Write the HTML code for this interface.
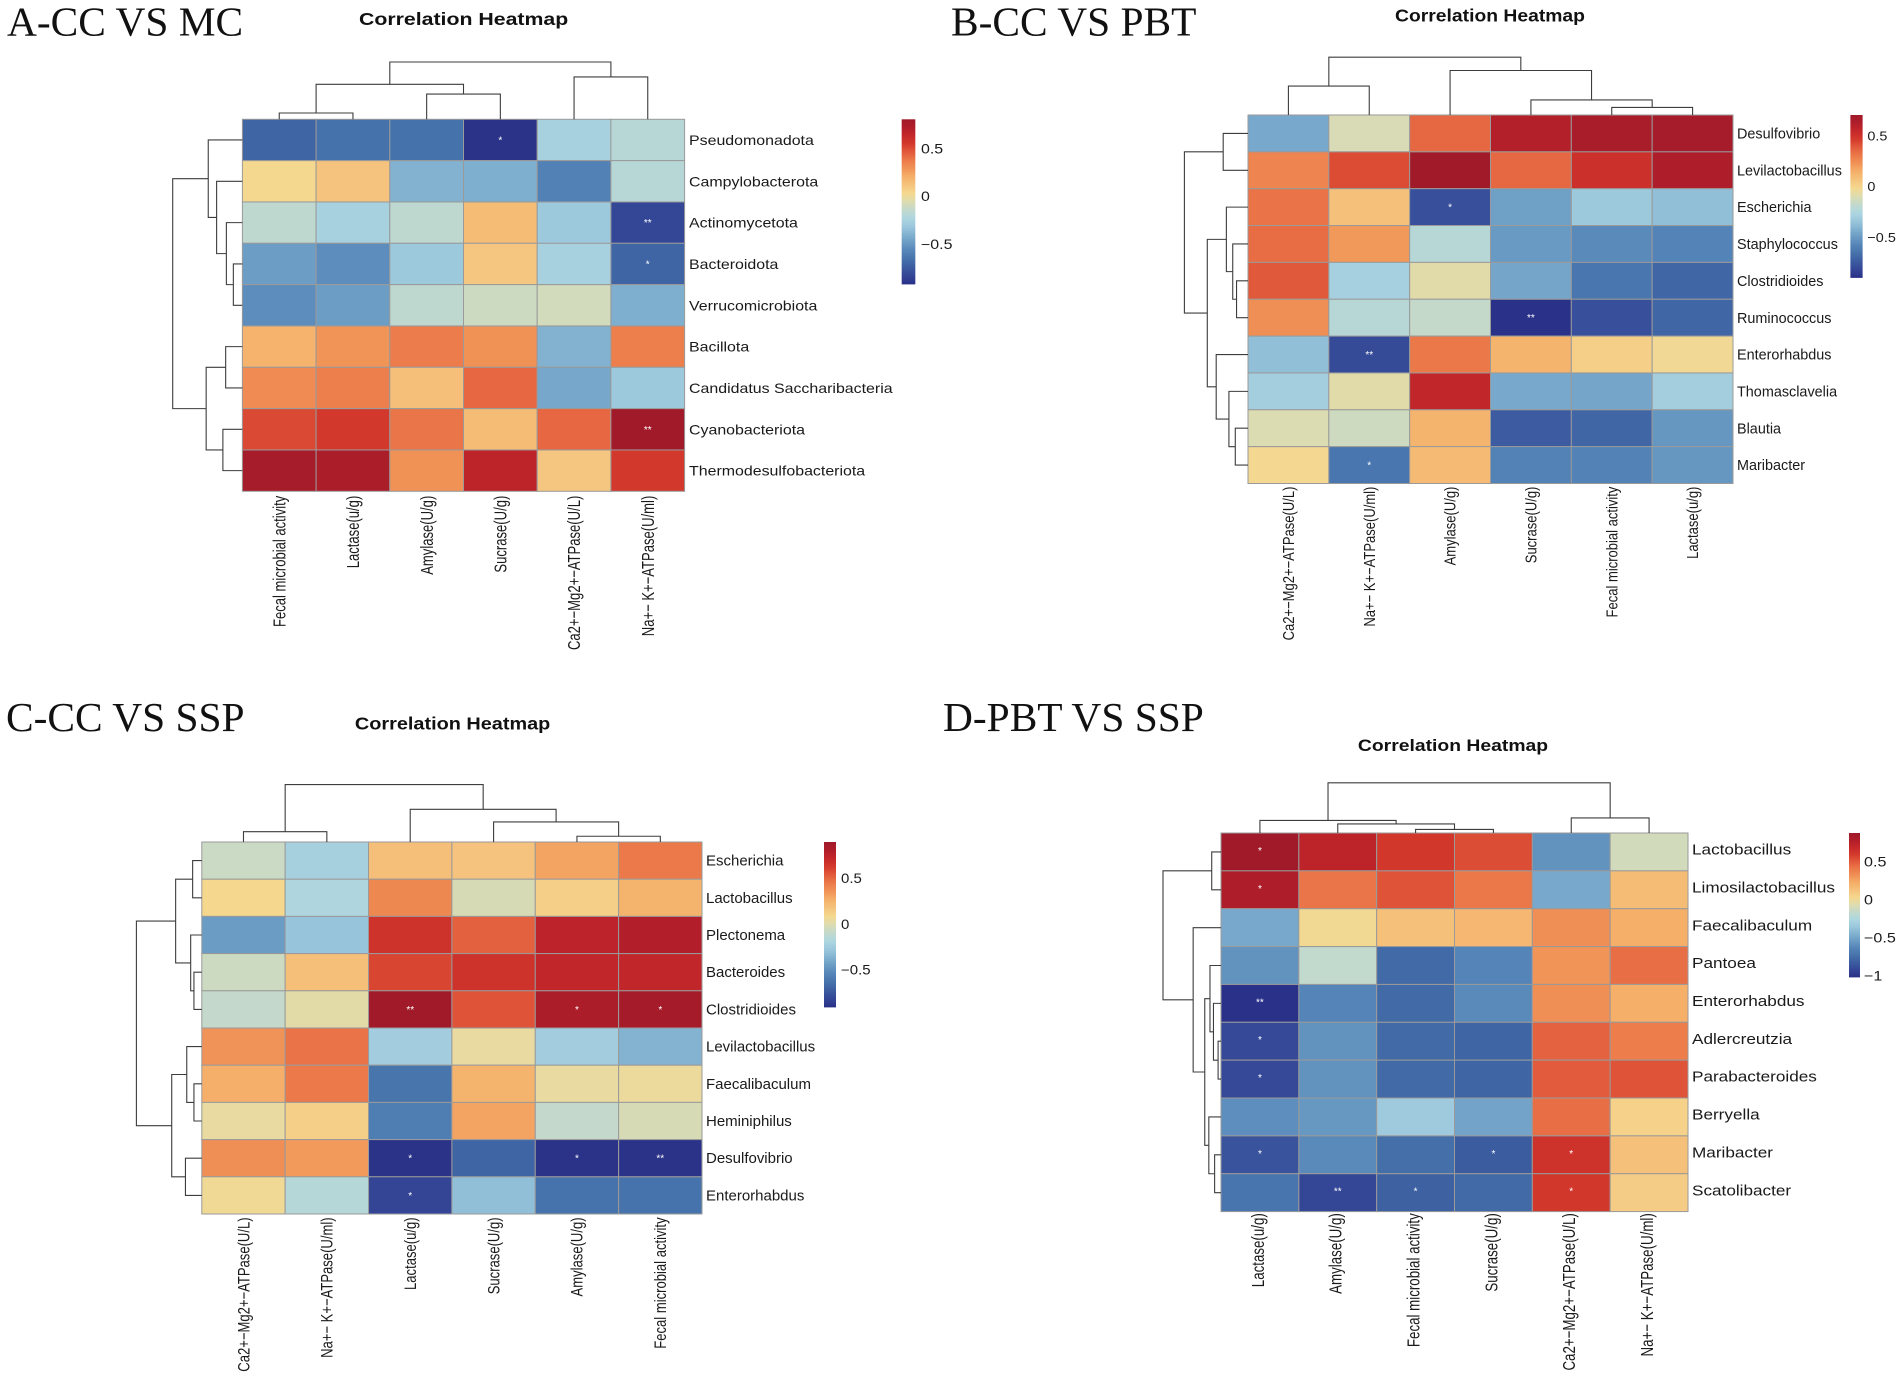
<!DOCTYPE html>
<html lang="en">
<head>
<meta charset="utf-8">
<title>Correlation Heatmaps</title>
<style>
html,body{margin:0;padding:0;background:#fff;}
svg{display:block;}
.panel-label{font-family:"Liberation Serif",serif;font-size:41.4px;fill:#111;}
.heat-title{font-family:"Liberation Sans",sans-serif;font-weight:bold;fill:#111;text-anchor:middle;}
text{font-family:"Liberation Sans",sans-serif;}
</style>
</head>
<body>
<svg id="figure" xmlns="http://www.w3.org/2000/svg" width="1902" height="1378" viewBox="0 0 1902 1378">
  <rect width="1902" height="1378" fill="#fff"/>

  <g id="panelA">
    <text class="panel-label" x="7" y="35.5">A-CC VS MC</text>
    <text class="heat-title" font-size="17.9" transform="translate(463.6,25) scale(1.19,1)">Correlation Heatmap</text>
  </g>
  <g id="panelB">
    <text class="panel-label" x="951" y="35.5">B-CC VS PBT</text>
    <text class="heat-title" font-size="17.9" transform="translate(1490,21.6) scale(1.08,1)">Correlation Heatmap</text>
  </g>
  <g id="panelC">
    <text class="panel-label" x="6" y="731">C-CC VS SSP</text>
    <text class="heat-title" font-size="17.9" transform="translate(452.6,729.6) scale(1.11,1)">Correlation Heatmap</text>
  </g>
  <g id="panelD">
    <text class="panel-label" x="943" y="731">D-PBT VS SSP</text>
    <text class="heat-title" font-size="16.4" transform="translate(1453,751) scale(1.18,1)">Correlation Heatmap</text>
  </g>
</svg>

<script>
// ---------- Panel A data ----------
const panelA_rows = ["Pseudomonadota","Campylobacterota","Actinomycetota","Bacteroidota","Verrucomicrobiota","Bacillota","Candidatus Saccharibacteria","Cyanobacteriota","Thermodesulfobacteriota"];
const panelA_cols = ["Fecal microbial activity","Lactase(u/g)","Amylase(U/g)","Sucrase(U/g)","Ca2+−Mg2+−ATPase(U/L)","Na+− K+−ATPase(U/ml)"];
const panelA_values = [
  [-0.70,-0.65,-0.65,-0.90,-0.25,-0.18],
  [ 0.04, 0.13,-0.39,-0.40,-0.58,-0.18],
  [-0.15,-0.25,-0.15, 0.16,-0.30,-0.82],
  [-0.47,-0.53,-0.30, 0.12,-0.25,-0.70],
  [-0.53,-0.47,-0.15,-0.10,-0.08,-0.40],
  [ 0.20, 0.30, 0.38, 0.31,-0.39, 0.37],
  [ 0.33, 0.37, 0.15, 0.44,-0.43,-0.30],
  [ 0.52, 0.57, 0.40, 0.16, 0.44, 0.81],
  [ 0.78, 0.75, 0.31, 0.68, 0.12, 0.57]
];
const panelA_marks = [[0,3,"*"],[2,5,"**"],[3,5,"*"],[7,5,"**"]];
const panelA_range = [-0.907,0.817];
const panelA_ticks = [0.5,0,-0.5];
const panelA_colTree = [[-1,-2,0.11],[-3,-4,0.44],[1,2,0.61],[-5,-6,0.74],[3,4,1]];
const panelA_rowTree = [[-4,-5,0.13],[-3,1,0.23],[-2,2,0.37],[-1,3,0.49],[-6,-7,0.24],[-8,-9,0.28],[5,6,0.52],[4,7,1]];

// ---------- Panel B data ----------
const panelB_rows = ["Desulfovibrio","Levilactobacillus","Escherichia","Staphylococcus","Clostridioides","Ruminococcus","Enterorhabdus","Thomasclavelia","Blautia","Maribacter"];
const panelB_cols = ["Ca2+−Mg2+−ATPase(U/L)","Na+− K+−ATPase(U/ml)","Amylase(U/g)","Sucrase(U/g)","Fecal microbial activity","Lactase(u/g)"];
const panelB_values = [
  [-0.45,-0.11, 0.35, 0.61, 0.66, 0.67],
  [ 0.27, 0.42, 0.70, 0.35, 0.51, 0.64],
  [ 0.32, 0.08,-0.78,-0.48,-0.33,-0.37],
  [ 0.34, 0.21,-0.22,-0.50,-0.56,-0.58],
  [ 0.39,-0.29,-0.08,-0.46,-0.64,-0.70],
  [ 0.24,-0.22,-0.17,-0.90,-0.78,-0.70],
  [-0.37,-0.80, 0.31, 0.13, 0.02,-0.03],
  [-0.30,-0.08, 0.56,-0.45,-0.46,-0.30],
  [-0.10,-0.14, 0.13,-0.74,-0.70,-0.51],
  [-0.02,-0.64, 0.10,-0.59,-0.59,-0.51]
];
const panelB_marks = [[2,2,"*"],[5,3,"**"],[6,1,"**"],[9,1,"*"]];
const panelB_range = [-0.897,0.705];
const panelB_ticks = [0.5,0,-0.5];
const panelB_colTree = [[-1,-2,0.50],[-5,-6,0.13],[-4,2,0.26],[-3,3,0.77],[1,4,1]];
const panelB_rowTree = [[-1,-2,0.39],[-5,-6,0.18],[-4,2,0.24],[-3,3,0.34],[-9,-10,0.20],[-8,5,0.30],[-7,6,0.50],[4,7,0.64],[1,8,1]];

// ---------- Panel C data ----------
const panelC_rows = ["Escherichia","Lactobacillus","Plectonema","Bacteroides","Clostridioides","Levilactobacillus","Faecalibaculum","Heminiphilus","Desulfovibrio","Enterorhabdus"];
const panelC_cols = ["Ca2+−Mg2+−ATPase(U/L)","Na+− K+−ATPase(U/ml)","Lactase(u/g)","Sucrase(U/g)","Amylase(U/g)","Fecal microbial activity"];
const panelC_values = [
  [-0.07,-0.22, 0.20, 0.18, 0.31, 0.45],
  [ 0.09,-0.18, 0.40,-0.02, 0.13, 0.25],
  [-0.45,-0.29, 0.67, 0.52, 0.76, 0.80],
  [-0.06, 0.20, 0.60, 0.67, 0.74, 0.74],
  [-0.09, 0.02, 0.90, 0.56, 0.83, 0.87],
  [ 0.36, 0.47,-0.24, 0.04,-0.24,-0.36],
  [ 0.27, 0.45,-0.62, 0.25, 0.04, 0.05],
  [ 0.04, 0.13,-0.58, 0.31,-0.09,-0.02],
  [ 0.38, 0.34,-0.90,-0.69,-0.90,-0.90],
  [ 0.07,-0.15,-0.82,-0.31,-0.63,-0.63]
];
const panelC_marks = [[4,2,"**"],[4,4,"*"],[4,5,"*"],[8,2,"*"],[8,4,"*"],[8,5,"**"],[9,2,"*"]];
const panelC_range = [-0.907,0.90];
const panelC_ticks = [0.5,0,-0.5];
const panelC_colTree = [[-1,-2,0.18],[-5,-6,0.10],[-4,2,0.35],[-3,3,0.57],[1,4,1]];
const panelC_rowTree = [[-1,-2,0.14],[-4,-5,0.12],[-3,2,0.17],[1,3,0.40],[-7,-8,0.12],[-6,5,0.23],[-9,-10,0.25],[6,7,0.46],[4,8,1]];

// ---------- Panel D data ----------
const panelD_rows = ["Lactobacillus","Limosilactobacillus","Faecalibaculum","Pantoea","Enterorhabdus","Adlercreutzia","Parabacteroides","Berryella","Maribacter","Scatolibacter"];
const panelD_cols = ["Lactase(u/g)","Amylase(U/g)","Fecal microbial activity","Sucrase(U/g)","Ca2+−Mg2+−ATPase(U/L)","Na+− K+−ATPase(U/ml)"];
const panelD_values = [
  [ 0.88, 0.73, 0.61, 0.54,-0.58,-0.11],
  [ 0.80, 0.42, 0.52, 0.41,-0.49, 0.16],
  [-0.49, 0.01, 0.14, 0.18, 0.33, 0.22],
  [-0.58,-0.17,-0.77,-0.64, 0.31, 0.44],
  [-1.02,-0.64,-0.77,-0.62, 0.33, 0.22],
  [-0.91,-0.58,-0.77,-0.79, 0.48, 0.39],
  [-0.91,-0.58,-0.77,-0.79, 0.50, 0.52],
  [-0.60,-0.56,-0.34,-0.51, 0.44, 0.06],
  [-0.87,-0.62,-0.75,-0.83, 0.63, 0.14],
  [-0.72,-0.92,-0.81,-0.77, 0.61, 0.08]
];
const panelD_marks = [[0,0,"*"],[1,0,"*"],[4,0,"**"],[5,0,"*"],[6,0,"*"],[8,0,"*"],[8,3,"*"],[8,4,"*"],[9,1,"**"],[9,2,"*"],[9,4,"*"]];
const panelD_range = [-1.02,0.88];
const panelD_ticks = [0.5,0,-0.5,-1];
const panelD_colTree = [[-3,-4,0.07],[-2,1,0.18],[-1,2,0.25],[-5,-6,0.30],[3,4,1]];
const panelD_rowTree = [[-1,-2,0.16],[-6,-7,0.05],[-5,2,0.13],[-4,3,0.19],[-9,-10,0.11],[-8,5,0.21],[4,6,0.28],[-3,7,0.48],[1,8,1]];

// ---------- Colour ramp (sampled from the reference colour bars) ----------
const rampColors = ["#2a3188","#344696","#3c5ca0","#4672ab","#5585b8","#6a9bc3","#82b2d0","#9cc8dd","#aed6e0","#c3d9cc","#dcdcb0","#f5d88f","#f5c47e","#f5b06a","#f09458","#ec7a4a","#e25b3c","#d43a2c","#c5282a","#b01e2a","#a01a2a"];

// ---------- Panel geometry ----------
const geometry = {
  A:{svg:"panelA",left:242.4,right:684.6,top:119.3,bottom:491.3,colTreeTop:62,rowTreeLeft:172.7,rowLabelX:689,colLabelTop:495.7,stretch:1.19,font:13.4,rowFont:14.2,rowStretch:1.123,rowDy:0,colDx:0,markDy:0,barL:901.7,barR:915.3,barT:119.3,barB:284,barLabelX:921,barDy:-0.8},
  B:{svg:"panelB",left:1248,right:1733,top:115,bottom:483.5,colTreeTop:57.2,rowTreeLeft:1184.4,rowLabelX:1737,colLabelTop:486.6,stretch:1.08,font:13.35,rowFont:14.6,rowStretch:0.987,rowDy:0,colDx:0,markDy:0,barL:1850.4,barR:1862.6,barT:115,barB:277.5,barLabelX:1867.4,barDy:0},
  C:{svg:"panelC",left:201.8,right:702,top:842,bottom:1214,colTreeTop:784.6,rowTreeLeft:136.4,rowLabelX:706,colLabelTop:1217.4,stretch:1.12,font:13.4,rowFont:14.4,rowStretch:1.042,rowDy:0,colDx:0,markDy:0,barL:824,barR:836,barT:842,barB:1007,barLabelX:841,barDy:0},
  D:{svg:"panelD",left:1221,right:1688,top:833,bottom:1211.6,colTreeTop:782.8,rowTreeLeft:1163,rowLabelX:1692,colLabelTop:1213.2,stretch:1.18,font:13.66,rowFont:14.4,rowStretch:1.192,rowDy:-2.4,colDx:-2.3,markDy:-1.5,barL:1849,barR:1860,barT:833,barB:977,barLabelX:1864,barDy:0}
};
const colLabelLength = 0.975;
const colLabelWidth = 1.1;

const NS = "http://www.w3.org/2000/svg";
function hexToRgb(h){return [parseInt(h.slice(1,3),16),parseInt(h.slice(3,5),16),parseInt(h.slice(5,7),16)];}
function rampColor(t){
  const c = Math.max(0,Math.min(1,t))*(rampColors.length-1);
  const i = Math.min(Math.floor(c),rampColors.length-2);
  const f = c-i;
  const a = hexToRgb(rampColors[i]), b = hexToRgb(rampColors[i+1]);
  return "rgb("+a.map((v,k)=>Math.round(v+(b[k]-v)*f)).join(",")+")";
}
function fmtTick(v){return v<0 ? "−"+Math.abs(v) : String(v);}
function make(tag,parent,attrs){
  const el = document.createElementNS(NS,tag);
  for(const k in attrs){el.setAttribute(k,attrs[k]);}
  parent.appendChild(el);
  return el;
}

function drawTree(parent,merges,nameBase,posOf,heightTo){
  // merges use hclust encoding: negative = leaf (1-based), positive = earlier merge (1-based)
  const nodes = [];
  function resolve(id){
    if(id<0){return {pos:posOf(-id-1),h:0};}
    return nodes[id-1];
  }
  merges.forEach(function(m){
    const a = resolve(m[0]), b = resolve(m[1]), h = m[2];
    nodes.push({pos:(a.pos+b.pos)/2,h:h});
    const d = heightTo(a,b,h);
    const p = make("path",parent,{d:d,fill:"none",stroke:"#3d3d3d","stroke-width":"1.1"});
    
    
  });
}

function drawPanel(g,rows,cols,values,marks,range,ticks,colTree,rowTree){
  const root = document.getElementById(g.svg);
  const nR = rows.length, nC = cols.length;
  const xBand = (g.right-g.left)/nC, yBand = (g.bottom-g.top)/nR;
  const xOf = function(c){return g.left+c*xBand;};
  const yOf = function(r){return g.top+r*yBand;};
  const colorOf = function(v){return rampColor((v-range[0])/(range[1]-range[0]));};

  // heatmap cells
  const cellsG = make("g",root,{});
  
  
  values.forEach(function(row,r){
    row.forEach(function(v,c){
      const cell = make("rect",cellsG,{x:xOf(c),y:yOf(r),width:xBand,height:yBand,fill:colorOf(v),stroke:"#9a9a9a","stroke-width":"1"});
      
      
    });
  });

  // significance marks
  marks.forEach(function(m){
    const t = make("text",root,{x:xOf(m[1])+xBand/2,y:yOf(m[0])+yBand/2+3.5+g.markDy,fill:"#fff","font-size":"10","text-anchor":"middle"});
    t.textContent = m[2];
    
    
  });

  // row labels
  rows.forEach(function(name,r){
    const t = make("text",root,{"font-size":g.rowFont,fill:"#1a1a1a",dy:"0.35em",transform:"translate("+g.rowLabelX+","+(yOf(r)+yBand/2+g.rowDy)+") scale("+g.rowStretch+",1)"});
    t.textContent = name;
    
    
  });

  // column labels
  cols.forEach(function(name,c){
    const t = make("text",root,{"font-size":g.font,fill:"#1a1a1a",dy:"0.35em","text-anchor":"end",transform:"translate("+(xOf(c)+xBand/2+g.colDx)+","+g.colLabelTop+") scale("+(g.stretch*colLabelWidth)+","+colLabelLength+") rotate(-90)"});
    t.textContent = name;
    
    
  });

  // column dendrogram
  const colExtent = g.top-g.colTreeTop;
  const colG = make("g",root,{});
  
  
  drawTree(colG,colTree,'column-dendrogram-branch',
    function(i){return xOf(i)+xBand/2;},
    function(a,b,h){
      const yOfH = function(v){return g.top-v*colExtent;};
      return "M"+a.pos+" "+yOfH(a.h)+"V"+yOfH(h)+"H"+b.pos+"V"+yOfH(b.h);
    });

  // row dendrogram
  const rowExtent = g.left-g.rowTreeLeft;
  const rowG = make("g",root,{});
  
  
  drawTree(rowG,rowTree,'row-dendrogram-branch',
    function(i){return yOf(i)+yBand/2;},
    function(a,b,h){
      const xOfH = function(v){return g.left-v*rowExtent;};
      return "M"+xOfH(a.h)+" "+a.pos+"H"+xOfH(h)+"V"+b.pos+"H"+xOfH(b.h);
    });

  // colour bar
  const barG = make("g",root,{});
  
  
  const steps = 100, stepH = (g.barB-g.barT)/steps;
  for(let i=0;i<steps;i++){
    const seg = make("rect",barG,{x:g.barL,y:g.barT+i*stepH,width:g.barR-g.barL,height:stepH+0.4,fill:rampColor(1-(i+0.5)/steps)});
    
    
  }
  const barY = function(v){return g.barB-(v-range[0])/(range[1]-range[0])*(g.barB-g.barT);};
  ticks.forEach(function(v){
    const t = make("text",barG,{"font-size":g.font,fill:"#1a1a1a",dy:"0.35em",transform:"translate("+g.barLabelX+","+(barY(v)+g.barDy)+") scale("+g.stretch+",1)"});
    t.textContent = fmtTick(v);
    
    
  });
}

drawPanel(geometry.A,panelA_rows,panelA_cols,panelA_values,panelA_marks,panelA_range,panelA_ticks,panelA_colTree,panelA_rowTree);
drawPanel(geometry.B,panelB_rows,panelB_cols,panelB_values,panelB_marks,panelB_range,panelB_ticks,panelB_colTree,panelB_rowTree);
drawPanel(geometry.C,panelC_rows,panelC_cols,panelC_values,panelC_marks,panelC_range,panelC_ticks,panelC_colTree,panelC_rowTree);
drawPanel(geometry.D,panelD_rows,panelD_cols,panelD_values,panelD_marks,panelD_range,panelD_ticks,panelD_colTree,panelD_rowTree);
</script>
</body>
</html>
